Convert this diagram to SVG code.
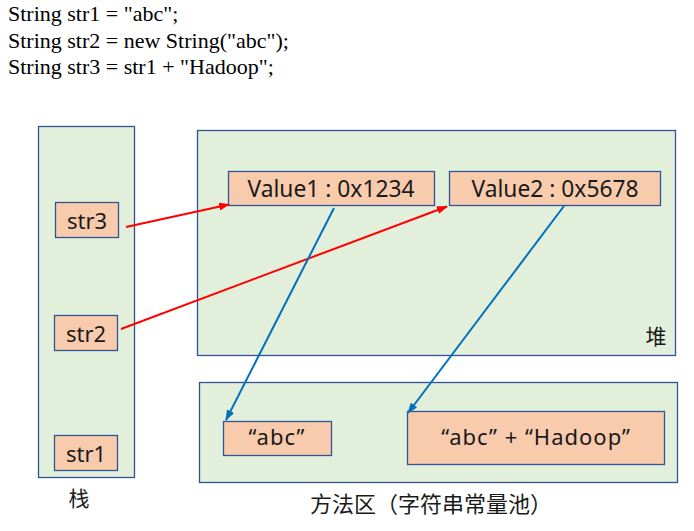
<svg xmlns="http://www.w3.org/2000/svg" width="694" height="531" viewBox="0 0 694 531">
<style>
.area{fill:#E2EFDA;stroke:#2F5597;stroke-width:1.3}
.box{fill:#F8CBAD;stroke:#2F5597;stroke-width:1.3}
.lbl{font-family:"Noto Sans","DejaVu Sans",sans-serif;font-size:22px;fill:#1a1a1a;text-anchor:middle}
.val{font-size:22.8px}
.wide{font-size:22px;letter-spacing:1px}
.cjk{font-family:"Noto Sans CJK SC",sans-serif;font-size:21px;fill:#1a1a1a}
.big{font-size:22px}
.code{font-family:"Liberation Serif",serif;font-size:22px;fill:#000}
.red{stroke:#FF0000;stroke-width:2;fill:none;marker-end:url(#ar)}
.blue{stroke:#0070C0;stroke-width:2;fill:none;marker-end:url(#ab)}
</style>
<defs>
<marker id="ar" markerUnits="userSpaceOnUse" markerWidth="11" markerHeight="8" refX="10" refY="4" orient="auto"><path d="M0,0 L11,4 L0,8 z" fill="#FF0000"/></marker>
<marker id="ab" markerUnits="userSpaceOnUse" markerWidth="11" markerHeight="8" refX="10" refY="4" orient="auto"><path d="M0,0 L11,4 L0,8 z" fill="#0070C0"/></marker>
</defs>
<rect width="694" height="531" fill="#fff"/>
<g id="code">
<text class="code" x="8" y="21">String str1 = "abc";</text>
<text class="code" x="8" y="48">String str2 = new String("abc");</text>
<text class="code" x="8" y="74">String str3 = str1 + "Hadoop";</text>
</g>
<g id="stack">
<rect class="area" x="38.5" y="126.5" width="96" height="351"/>
<text class="cjk" x="79" y="506" text-anchor="middle">栈</text>
</g>
<g id="heap">
<rect class="area" x="197.5" y="130.5" width="478" height="225"/>
<text class="cjk" x="656" y="344" text-anchor="middle">堆</text>
</g>
<g id="method">
<rect class="area" x="199.5" y="382.5" width="478" height="100"/>
<text class="cjk big" x="310" y="512">方法区（字符串常量池）</text>
</g>
<g id="str3"><rect class="box" x="55.5" y="202.5" width="63" height="35"/><text class="lbl" x="87" y="229">str3</text></g>
<g id="str2"><rect class="box" x="54.5" y="315.5" width="63" height="35"/><text class="lbl" x="86" y="342">str2</text></g>
<g id="str1"><rect class="box" x="54.5" y="435.5" width="63" height="35"/><text class="lbl" x="86" y="462">str1</text></g>
<g id="value1"><rect class="box" x="228.5" y="171.5" width="206" height="34"/><text class="lbl val" x="331" y="196.5">Value1 : 0x1234</text></g>
<g id="value2"><rect class="box" x="449.5" y="171.5" width="211" height="34"/><text class="lbl val" x="555" y="196.5">Value2 : 0x5678</text></g>
<g id="abc"><rect class="box" x="223.5" y="421.5" width="108" height="34"/><text class="lbl wide" x="277" y="445">“abc”</text></g>
<g id="abchadoop"><rect class="box" x="407.5" y="411.5" width="257" height="53"/><text class="lbl wide" x="536" y="445">“abc” + “Hadoop”</text></g>
<g id="connectors">
<line class="red" x1="126" y1="227" x2="229" y2="204.5"/>
<line class="red" x1="121" y1="329" x2="447" y2="206.5"/>
<line class="blue" x1="334" y1="208" x2="226" y2="420"/>
<line class="blue" x1="564" y1="206" x2="408" y2="413"/>
</g>
</svg>
